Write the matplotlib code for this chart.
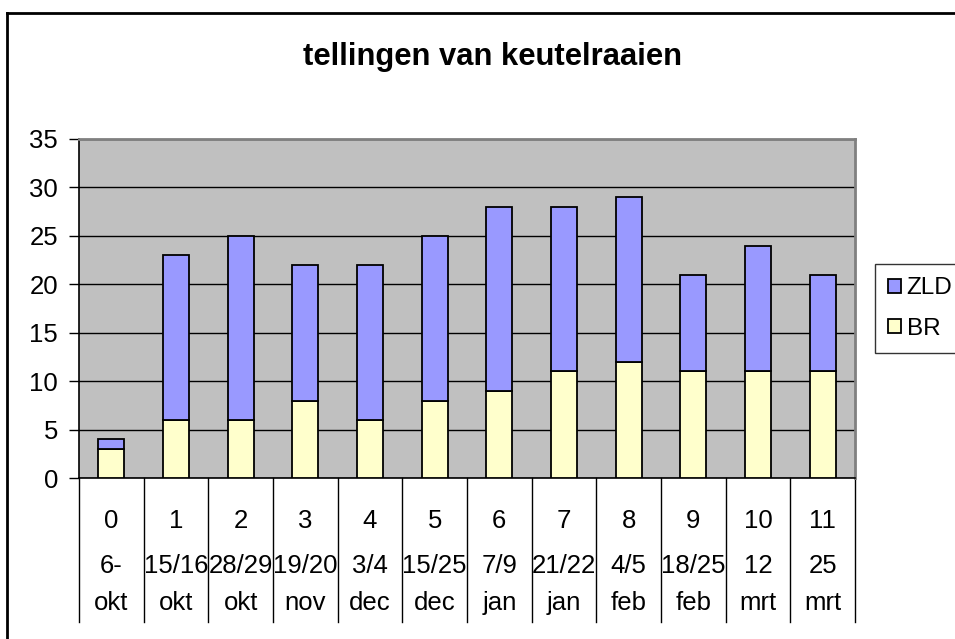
import matplotlib.pyplot as plt
from matplotlib.lines import Line2D

plt.rcParams['font.family'] = ['Liberation Sans', 'DejaVu Sans']

nummers = ['0', '1', '2', '3', '4', '5', '6', '7', '8', '9', '10', '11']
dagen = ['6-', '15/16', '28/29', '19/20', '3/4', '15/25', '7/9', '21/22', '4/5', '18/25', '12', '25']
maanden = ['okt', 'okt', 'okt', 'nov', 'dec', 'dec', 'jan', 'jan', 'feb', 'feb', 'mrt', 'mrt']
br = [3, 6, 6, 8, 6, 8, 9, 11, 12, 11, 11, 11]
zld = [1, 17, 19, 14, 16, 17, 19, 17, 17, 10, 13, 10]

W, H = 955, 639
fig = plt.figure(figsize=(W / 100, H / 100), dpi=100)
ax = fig.add_axes([79 / W, (H - 478) / H, (855 - 79) / W, (478 - 139) / H])
ax.set_facecolor('#C0C0C0')

x = list(range(len(nummers)))
b1 = ax.bar(x, br, width=0.4, color='#FFFFCC', edgecolor='black', linewidth=1.3, zorder=3)
b2 = ax.bar(x, zld, width=0.4, bottom=br, color='#9999FF', edgecolor='black', linewidth=1.3, zorder=3)

ax.set_xlim(-0.5, len(nummers) - 0.5)
ax.set_ylim(0, 35)
ax.set_yticks(range(0, 36, 5))
ax.yaxis.grid(True, color='black', linewidth=1)
ax.set_axisbelow(True)
ax.tick_params(axis='y', labelsize=18.5, length=7, width=1, pad=8)
ax.set_xticks([])

for s in ['top', 'right']:
    ax.spines[s].set_color('#808080')
    ax.spines[s].set_linewidth(2)
ax.spines['left'].set_linewidth(1.2)
ax.spines['bottom'].set_linewidth(1.2)

# category table below the axis
tr = ax.get_xaxis_transform()
ah = 478 - 139
for i in x:
    ax.text(i, (478 - 521) / ah, nummers[i], transform=tr, ha='center', va='center', fontsize=18.5)
    ax.text(i, (478 - 566) / ah, dagen[i], transform=tr, ha='center', va='center', fontsize=18.5)
    ax.text(i, (478 - 603) / ah, maanden[i], transform=tr, ha='center', va='center', fontsize=18.5)
for k in range(len(nummers) + 1):
    ax.add_line(Line2D([k - 0.5, k - 0.5], [0, (478 - 622) / ah], transform=tr, color='black',
                       linewidth=1, clip_on=False))

fig.text(492 / W, 1 - 57 / H, 'tellingen van keutelraaien', ha='center', va='center',
         fontsize=22.3, fontweight='bold')

# outer chart border
fig.add_artist(Line2D([7 / W, 7 / W], [0, 1 - 13 / H], color='black', linewidth=2))
fig.add_artist(Line2D([7 / W, 1], [1 - 13 / H, 1 - 13 / H], color='black', linewidth=2))

leg = fig.legend([b2, b1], ['ZLD', 'BR'], loc='upper left',
                 bbox_to_anchor=(875 / W, 1 - 264 / H), fontsize=17.5, frameon=True,
                 fancybox=False, edgecolor='black', handlelength=0.5, handleheight=0.5,
                 handletextpad=0.25, labelspacing=0.75, borderpad=0.55, borderaxespad=0)
leg.get_frame().set_linewidth(1)

fig.savefig('out.png', dpi=100)
